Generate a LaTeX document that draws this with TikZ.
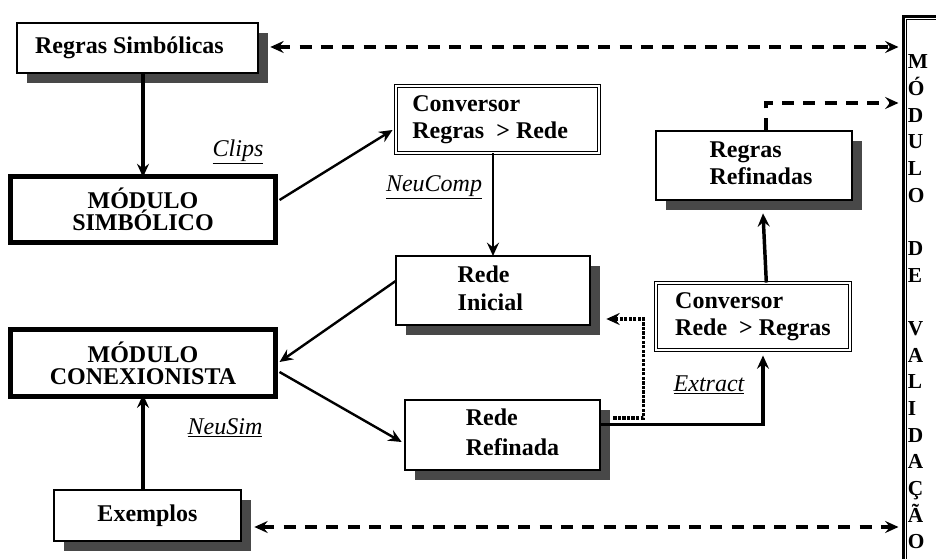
\documentclass[tikz,border=0pt]{standalone}
\usepackage{fontspec}
\setmainfont{Liberation Serif}
\usetikzlibrary{arrows.meta,shadows}
\definecolor{shade}{HTML}{484848}
% left-aligned text block; the optional kern moves the block sideways by half its value
\newcommand\blk[2][0pt]{\hspace*{#1}\begin{tabular}{@{}l@{}}#2\end{tabular}}

\tikzset{
  boxfont/.style={font=\bfseries\fontsize{18}{20.25}\selectfont},
  shbox/.style={draw, line width=2pt, fill=white, inner sep=0pt, boxfont,
    drop shadow={shadow xshift=7.5pt, shadow yshift=-7.5pt, fill=shade, opacity=1}},
  modbox/.style={draw, line width=2.3pt, fill=white, inner sep=0pt, align=center,
    font=\bfseries\fontsize{18}{16.5}\selectfont},
  convbox/.style={draw, double, line width=0.7pt, double distance=1.5pt, fill=white,
    inner sep=0pt, boxfont},
  lbl/.style={font=\itshape\fontsize{18}{20}\selectfont, inner sep=0pt},
  tip/.style={-{Stealth[length=10pt, width=9pt, inset=3.5pt]}},
  heavy/.style={tip, line width=2.6pt},
  mid/.style={tip, line width=2pt},
  diag/.style={tip, line width=1.8pt},
  dashlink/.style={line width=2.4pt, dash pattern=on 9pt off 7pt,
    {Stealth[length=10pt, width=9pt, inset=3.5pt]}-{Stealth[length=10pt, width=9pt, inset=3.5pt]}},
  dashone/.style={line width=2.4pt, dash pattern=on 9pt off 7pt,
    -{Stealth[length=10pt, width=9pt, inset=3.5pt]}},
  dotlink/.style={line width=2.6pt, dash pattern=on 2.4pt off 1pt,
    -{Stealth[length=10pt, width=9pt, inset=3.5pt]}},
}

\begin{document}
\begin{tikzpicture}[x=0.75pt, y=-0.75pt]
\useasboundingbox (0,0) rectangle (936,559);
\clip (0,0) rectangle (936,559);

% validation module on the right edge
\node[draw, line width=2.3pt, fill=white, inner sep=0pt, anchor=north west,
      minimum width=150pt, minimum height=600pt] (valid) at (901.5,15) {};
\draw[line width=0.7pt] ([shift={(4.5,4.5)}]valid.north west) rectangle ([shift={(-4.5,-4.5)}]valid.south east);
\node[anchor=north west, align=left, inner sep=0pt,
      font=\bfseries\fontsize{16}{20}\selectfont] (vtxt) at (907.5,54.5)
  {M\\Ó\\D\\U\\L\\O\\[20pt]D\\E\\[20pt]V\\A\\L\\I\\D\\A\\Ç\\Ã\\O};

% boxes
\node[shbox, minimum width=180.75pt, minimum height=37.5pt] (rsimb) at (137.5,48)
  {\blk[-12pt]{Regras Simbólicas}};
\node[modbox, minimum width=199.5pt, minimum height=50.25pt] (msimb) at (143,209.5)
  {MÓDULO\\SIMBÓLICO};
\node[modbox, minimum width=199.5pt, minimum height=51pt] (mconx) at (143,363)
  {MÓDULO\\CONEXIONISTA};
\node[shbox, minimum width=140.25pt, minimum height=38.25pt] (exem) at (147.5,515.5)
  {Exemplos};
\node[convbox, minimum width=152.25pt, minimum height=50.25pt] (conv1) at (497.5,119.5)
  {\blk[-11pt]{Conversor\\Regras\ \ > Rede}};
\node[shbox, minimum width=145.5pt, minimum height=51.75pt,
      font=\bfseries\fontsize{18}{21}\selectfont] (rini) at (493,290.5)
  {\blk[-4pt]{Rede\\Inicial}};
\node[shbox, minimum width=146.25pt, minimum height=52.5pt,
      font=\bfseries\fontsize{18}{22.5}\selectfont] (rref) at (502.5,435)
  {\blk[15pt]{Rede\\Refinada}};
\node[convbox, minimum width=145.5pt, minimum height=50.25pt] (conv2) at (753,316.5)
  {\blk{Conversor\\Rede\ \ > Regras}};
\node[shbox, minimum width=147pt, minimum height=51.75pt] (rrefin) at (754,165.5)
  {\blk[10.5pt]{Regras\\Refinadas}};
\draw[line width=0.7pt] ([shift={(4,4)}]msimb.north west) rectangle ([shift={(-4,-4)}]msimb.south east);
\draw[line width=0.7pt] ([shift={(4,4)}]mconx.north west) rectangle ([shift={(-4,-4)}]mconx.south east);

% tool labels
\node[lbl] (clips) at (238,152) {\underline{Clips}};
\node[lbl] (neucomp) at (434,187) {\underline{NeuComp}};
\node[lbl] (neusim) at (225,428) {\underline{NeuSim}};
\node[lbl] (extract) at (709,385) {\underline{Extract}};

% connectors
\draw[heavy] (rsimb.south -| msimb.north) -- ([yshift=-2]msimb.north);
\draw[diag] ([shift={(2,-9.5)}]msimb.east) -- ([shift={(-3,10.5)}]conv1.west);
\draw[mid] (conv1.south -| rini.north) -- ([yshift=-1]rini.north);
\draw[diag] ([shift={(1,-9.5)}]rini.west) -- ([shift={(2,-1)}]mconx.east);
\draw[diag] ([shift={(2,9)}]mconx.east) -- ([shift={(-2,7)}]rref.west);
\draw[heavy] (exem.north -| mconx.south) -- ([yshift=3]mconx.south);
\draw[heavy] ([yshift=8]rref.east) -| ([shift={(10,5)}]conv2.south);
\draw[heavy] ([xshift=10]conv2.north) -- ([shift={(9,12)}]rrefin.south);
\draw[dotlink] ([shift={(12,-17)}]rref.east) -- ++(30,0) |- ([shift={(15,28.5)}]rini.east);
\draw[dashone] ([xshift=9]rrefin.north) |- ([shift={(-3,88)}]valid.north west);
\draw[dashlink] ([shift={(11,-1)}]rsimb.east) -- ([shift={(-3,32)}]valid.north west);
\draw[dashlink] ([shift={(12,11.5)}]exem.east) -- ([shift={(-3,512)}]valid.north west);
\end{tikzpicture}
\end{document}
